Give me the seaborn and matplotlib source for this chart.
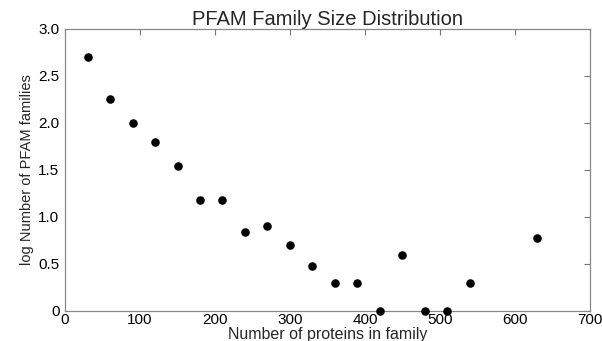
import matplotlib
matplotlib.use("Agg")
import matplotlib.pyplot as plt
import seaborn as sns
import pandas as pd
from matplotlib.ticker import FixedLocator, FixedFormatter

# Family size bins (number of proteins) and log10 of family counts
family_size = [30, 60, 90, 120, 150, 180, 210, 240, 270, 300,
               330, 360, 390, 420, 450, 480, 510, 540, 630]
log_count = [2.70, 2.26, 2.00, 1.80, 1.54, 1.18, 1.18, 0.845, 0.90, 0.70,
             0.477, 0.30, 0.30, 0.0, 0.60, 0.0, 0.0, 0.30, 0.778]

x_ticks = [0, 100, 200, 300, 400, 500, 600, 700]
x_tick_labels = ["0", "100", "200", "300", "400", "500", "600", "700"]
y_ticks = [0, 0.5, 1.0, 1.5, 2.0, 2.5, 3.0]
y_tick_labels = ["0", "0.5", "1.0", "1.5", "2.0", "2.5", "3.0"]

df = pd.DataFrame({"size": family_size, "logn": log_count})

sns.set_style("white")
plt.rcParams["font.family"] = ["Liberation Sans", "DejaVu Sans"]

fig = plt.figure(figsize=(6.02, 3.41), dpi=100)
ax = fig.add_axes([0.108, 0.088, 0.872, 0.827])

sns.scatterplot(data=df, x="size", y="logn", ax=ax, color="black",
                s=38, edgecolor="black", linewidth=0, clip_on=False, zorder=3)

ax.set_xlim(0, 700)
ax.set_ylim(0, 3.0)
ax.xaxis.set_major_locator(FixedLocator(x_ticks))
ax.xaxis.set_major_formatter(FixedFormatter(x_tick_labels))
ax.yaxis.set_major_locator(FixedLocator(y_ticks))
ax.yaxis.set_major_formatter(FixedFormatter(y_tick_labels))

ax.tick_params(direction="in", length=4, width=0.8, color="#777777",
               labelsize=11, top=True, right=True, labelcolor="black")
ax.tick_params(axis="x", pad=1.5)
ax.tick_params(axis="y", pad=4)
for sp in ax.spines.values():
    sp.set_color("#888888")
    sp.set_linewidth(0.9)

ax.set_title("PFAM Family Size Distribution", fontsize=14.5, pad=3)
ax.set_xlabel("Number of proteins in family", fontsize=11.5, labelpad=0)
ax.set_ylabel("log Number of PFAM families", fontsize=10.5, labelpad=3)

fig.savefig("out.png", dpi=100)
